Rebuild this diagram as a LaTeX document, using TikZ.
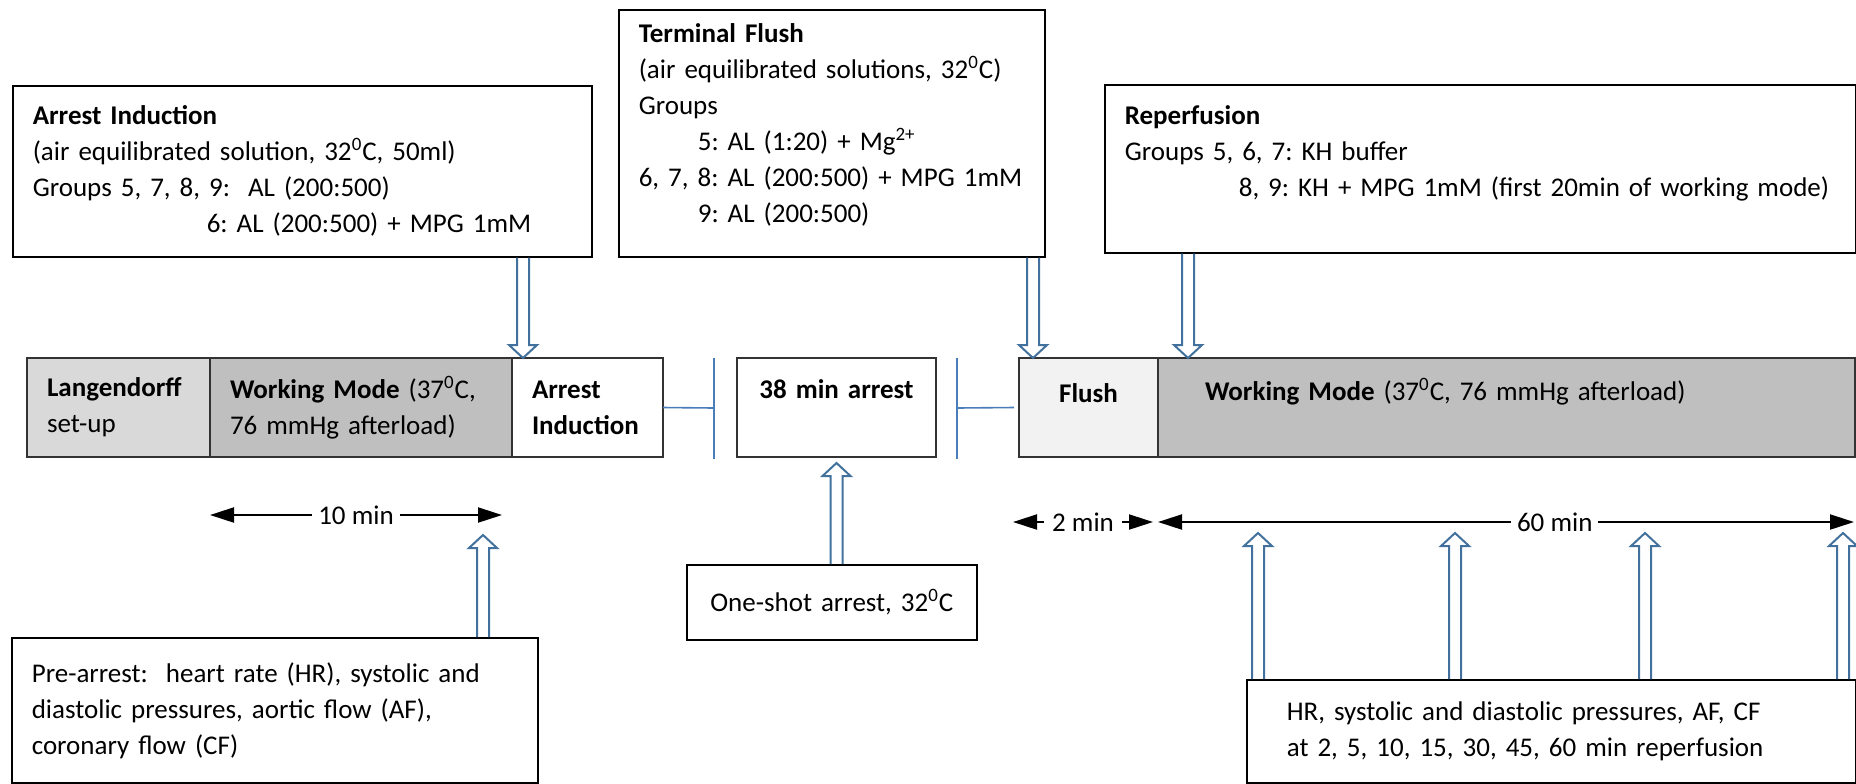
\documentclass[tikz,border=0pt]{standalone}
\usepackage{fontspec}
\setmainfont{Carlito}
\usetikzlibrary{arrows.meta,calc,positioning}

\definecolor{arrblue}{HTML}{41719C}
\definecolor{lineblue}{HTML}{4A7EBB}
\definecolor{lgfill}{HTML}{D9D9D9}
\definecolor{wmfill}{HTML}{BFBFBF}
\definecolor{flfill}{HTML}{F2F2F2}

\newcommand{\boxfont}{\fontsize{13.5pt}{18pt}\selectfont\frenchspacing}
\newcommand{\blockarrow}[2]{%
	\draw[hollow] let \p1=(#1), \p2=(#2), \p3=($(#2)!6.5pt!(#1)$) in
		(\x1-3pt,\y1) -- (\x1-3pt,\y3) -- (\x1-7pt,\y3) -- (\x2,\y2) -- (\x1+7pt,\y3) -- (\x1+3pt,\y3) -- (\x1+3pt,\y1);}
\hyphenpenalty=10000
\exhyphenpenalty=10000

\begin{document}
\begin{tikzpicture}[x=0.5pt, y=-0.5pt,
		box/.style   = {draw, line width=0.8pt, rectangle, anchor=north west, inner xsep=10pt, inner ysep=0pt, align=left, font=\boxfont},
		stage/.style = {box, draw=black!80, outer sep=0pt, minimum height=49.5pt},
		hollow/.style = {draw=arrblue, line width=1pt, line join=miter},
		link/.style  = {draw=lineblue, line width=0.8pt},
		span/.style  = {{Triangle[length=12pt,width=7.5pt]}-{Triangle[length=12pt,width=7.5pt]}, line width=1pt},
		lbl/.style   = {fill=white, inner sep=3pt, font=\boxfont},
		node distance=0pt]
		
		\useasboundingbox (0,0) rectangle (1856,783);
		
		\node[box, text width=269.5pt, minimum height=85.5pt] (ai) at (12,85) {\textbf{Arrest Induction}\\(air equilibrated solution, 32\textsuperscript{0}C, 50ml)\\Groups 5, 7, 8, 9:\ \ AL (200:500)\\\hspace*{87pt}6: AL (200:500) + MPG 1mM};
		\node[box, text width=193pt, minimum height=123.5pt] (tf) at (618,9) {\textbf{Terminal Flush}\\\mbox{(air equilibrated solutions, 32\textsuperscript{0}C)}\\Groups\\\hspace*{29.5pt}5: AL (1:20) + Mg\textsuperscript{2+}\\\mbox{6, 7, 8: AL (200:500) + MPG 1mM}\\\hspace*{29.5pt}9: AL (200:500)\\[-8pt]\mbox{}};
		\node[box, text width=355.5pt, minimum height=84pt] (rp) at (1104,84) {\textbf{Reperfusion}\\Groups 5, 6, 7: KH buffer\\\hspace*{57pt}\mbox{8, 9: KH + MPG 1mM (first 20min of working mode)}\\\mbox{}};
		
		\begin{scope}[every node/.style={stage}]
		\node[fill=lgfill, text width=71.5pt] (lg) at (27,358) {\textbf{Langendorff}\\set-up};
		\node[right=of lg, fill=wmfill, text width=131pt] (wm1) {\textbf{Working Mode} (37\textsuperscript{0}C,\\76 mmHg afterload)};
		\node[right=of wm1, fill=white, text width=55.5pt] (ai2) {\textbf{Arrest}\\\textbf{Induction}};
		\node[align=center, inner xsep=4pt, text width=91.5pt] (ar) at (737,358) {\textbf{38 min arrest}\\\mbox{}};
		\node[align=center, fill=flfill, text width=49.5pt] (fl) at (1019,358) {\textbf{Flush}\\[-3.5pt]\mbox{}};
		\node[right=of fl, fill=wmfill, text width=328.5pt] (wm2) {\hspace*{13.5pt}\textbf{Working Mode} (37\textsuperscript{0}C, 76 mmHg afterload)\\\mbox{}};
		\end{scope}
		
		\node[box, text width=243pt, minimum height=72.5pt] (pa) at (11,637) {Pre-arrest:\ \ heart rate (HR), systolic and\\diastolic pressures, aortic flow (AF),\\coronary flow (CF)};
		\node[box, align=center, inner xsep=5pt, text width=135pt, minimum height=37.5pt] (os) at (686,564) {One-shot arrest, 32\textsuperscript{0}C};
		\node[box, text width=284.5pt, minimum height=51.5pt] (hr) at (1246,679) {\hspace*{10pt}HR, systolic and diastolic pressures, AF, CF\\\hspace*{10pt}at 2, 5, 10, 15, 30, 45, 60 min reperfusion};
		
		\coordinate (b1) at (714,408);
		\coordinate (b2) at (957,408);
		\draw[link] (ai2.east) -- (b1);
		\draw[link] (b2) -- ([xshift=-2.5pt]fl.west);
		\foreach \value in {1,2}
		\draw[link] ([yshift=25pt]b\value) -- ([yshift=-25.5pt]b\value);
		
		\coordinate (aiTip) at ([xshift=5.5pt]ai2.north west);
		\coordinate (tfTip) at ([xshift=7pt]fl.north west);
		\coordinate (rpTip) at ([xshift=15pt]wm2.north west);
		\coordinate (arTip) at ([yshift=-3pt]ar.south);
		\coordinate (paTip) at (483,535);
		\blockarrow{ai.south -| aiTip}{aiTip}
		\blockarrow{tf.south -| tfTip}{tfTip}
		\blockarrow{rp.south -| rpTip}{rpTip}
		\blockarrow{os.north -| arTip}{arTip}
		\blockarrow{pa.north -| paTip}{paTip}
		\foreach \value [count=\i] in {1258,1455,1645,1843} {
			\coordinate (hrTip\i) at (\value,533);
			\blockarrow{hr.north -| hrTip\i}{hrTip\i}
		}
		
		\coordinate (tenL) at ([yshift=-29pt]wm1.south west);
		\coordinate (tenR) at ([xshift=-5pt,yshift=-29pt]wm1.south east);
		\coordinate (twoL) at ([xshift=-3pt,yshift=-32.5pt]fl.south west);
		\coordinate (twoR) at ([xshift=-2.5pt,yshift=-32.5pt]fl.south east);
		\coordinate (sixL) at ([yshift=-32.5pt]wm2.south west);
		\coordinate (sixR) at ([xshift=-0.5pt,yshift=-32.5pt]wm2.south east);
		\draw[span] (tenL) -- node[lbl] (ten) {10 min} (tenR);
		\draw[span] (twoL) -- node[lbl, inner xsep=4pt] (two) {2 min} (twoR);
		\draw[span] (sixL) -- node[lbl, pos=0.57] (six) {60 min} (sixR);
		
	\end{tikzpicture}
\end{document}
